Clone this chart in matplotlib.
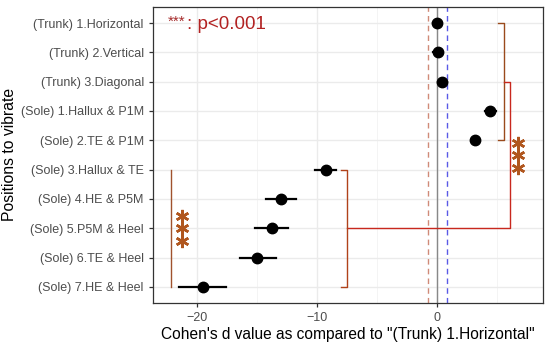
import matplotlib
matplotlib.use("Agg")
import matplotlib.pyplot as plt
from matplotlib.ticker import MultipleLocator

plt.rcParams['font.family'] = ['Liberation Sans', 'DejaVu Sans']

categories = ["(Trunk) 1.Horizontal", "(Trunk) 2.Vertical", "(Trunk) 3.Diagonal",
              "(Sole) 1.Hallux & P1M", "(Sole) 2.TE & P1M", "(Sole) 3.Hallux & TE",
              "(Sole) 4.HE & P5M", "(Sole) 5.P5M & Heel", "(Sole) 6.TE & Heel",
              "(Sole) 7.HE & Heel"]
d_values = [0.0, 0.05, 0.45, 4.4, 3.2, -9.25, -13.0, -13.8, -15.0, -19.55]
ci_low = [-0.3, -0.3, 0.1, 4.0, 2.9, -10.2, -14.3, -15.2, -16.4, -21.5]
ci_high = [0.3, 0.35, 0.8, 4.9, 3.5, -8.4, -11.75, -12.45, -13.4, -17.6]
ref_low, ref_high = -0.78, 0.83
x_ticks = [-20, -10, 0]

fig = plt.figure(figsize=(5.5, 3.47), dpi=100)
ax = fig.add_axes([0.278, 0.127, 0.709, 0.853])

n = len(categories)
ypos = [n - i for i in range(n)]

ax.set_xlim(-23.7, 8.83)
ax.set_ylim(0.45, n + 0.55)

ax.xaxis.set_minor_locator(MultipleLocator(5))
ax.set_xticks(x_ticks)
ax.set_yticks(ypos)
ax.set_yticklabels(categories)
ax.grid(which='major', color='#EBEBEB', lw=1.0, zorder=0)
ax.grid(which='minor', axis='x', color='#F3F3F3', lw=0.6, zorder=0)
ax.set_axisbelow(True)
for s in ax.spines.values():
    s.set_color('#333333')
    s.set_linewidth(0.9)
ax.tick_params(axis='both', colors='#333333', length=3, width=0.9, labelsize=9,
               labelcolor='#4D4D4D', which='major')
ax.tick_params(which='minor', length=0)

# reference lines
ax.axvline(0, color='#888888', lw=1.0, zorder=1)
ax.axvline(ref_low, color='#D08A78', lw=1.0, ls=(0, (4, 3)), zorder=1)
ax.axvline(ref_high, color='#5A5AE6', lw=1.0, ls=(0, (4, 3)), zorder=1)

# error bars and points
for y, lo, hi in zip(ypos, ci_low, ci_high):
    ax.plot([lo, hi], [y, y], color='black', lw=1.6, zorder=3)
ax.plot(d_values, ypos, 'o', color='black', ms=7.5, zorder=4)

# brackets
c1, c2, c3, c4 = '#9A4A1C', '#C8281E', '#B0421A', '#A0522D'
ax.plot([5.05, 5.6, 5.6, 5.05], [10, 10, 6, 6], color=c1, lw=1.0, zorder=2)
ax.plot([5.6, 6.1, 6.1, -7.5], [8, 8, 3, 3], color=c2, lw=1.0, zorder=2)
ax.plot([-8.0, -7.5, -7.5, -8.0], [5, 5, 1, 1], color=c3, lw=1.0, zorder=2)
ax.plot([-22.2, -22.2], [5, 1], color=c4, lw=1.0, zorder=2)

star_col = '#B0561E'
star_x = [6.75, 6.75, 6.75, -21.3, -21.3, -21.3]
star_y = [5.9, 5.5, 5.07, 3.42, 3.0, 2.58]
ax.plot(star_x, star_y, ls='none', marker=(6, 2, 0), ms=9.5, color=star_col,
        markeredgewidth=1.8, zorder=5)

# legend text
ax.text(-22.5, 10.05, "***", fontsize=11, color='#A52A2A', ha='left', va='center', zorder=5)
ax.text(-20.85, 9.95, ": p<0.001", fontsize=13.5, color='#B22222', ha='left', va='center', zorder=5)

ax.set_xlabel("Cohen's d value as compared to \"(Trunk) 1.Horizontal\"", fontsize=11.2,
              color='black', labelpad=2)
ax.set_ylabel("Positions to vibrate", fontsize=11.3, color='black', labelpad=3)

fig.savefig("out.png", dpi=100)
